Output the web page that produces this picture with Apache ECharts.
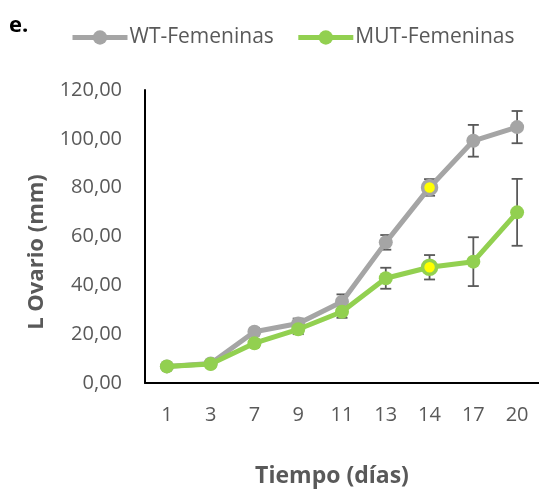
<!DOCTYPE html>
<html>
<head>
<meta charset="utf-8">
<script src="https://cdn.jsdelivr.net/npm/echarts@6/dist/echarts.min.js"></script>
<style>html,body{margin:0;padding:0;background:#fff}#c{width:539px;height:502px}</style>
</head>
<body>
<div id="c"></div>
<script>
const days = ['1','3','7','9','11','13','14','17','20'];
const wt = [6.8, 8.0, 21.0, 24.4, 33.3, 57.6, 80.1, 99.2, 104.8];
const mut = [6.8, 7.8, 16.3, 22.0, 29.2, 42.9, 47.4, 49.7, 69.9];
const wtErr = [0.5, 0.8, 1.5, 2.0, 3.0, 3.0, 3.4, 6.5, 6.6];
const mutErr = [0.5, 0.8, 1.5, 2.0, 2.5, 4.3, 5.0, 10.0, 13.7];
const highlightDays = ['14'];
const yTicks = [0, 20, 40, 60, 80, 100, 120];

const FONT = 'Open Sans';
const GREY = '#a5a5a5', GREEN = '#92d050', TXT = '#595959';

function pts(vals, color) {
  return vals.map((v, i) => highlightDays.includes(days[i])
    ? {value: v, itemStyle: {color: '#ffff00', borderColor: color, borderWidth: 3.5}}
    : v);
}
function errData(vals, errs) {
  return vals.map((v, i) => [i, v - errs[i], v + errs[i]]);
}
function errSeries(name, vals, errs) {
  return {
    type: 'custom', name: name, z: 1, silent: true,
    data: errData(vals, errs),
    renderItem: function (params, api) {
      const lo = api.coord([api.value(0), api.value(1)]);
      const hi = api.coord([api.value(0), api.value(2)]);
      const w = 5.5;
      const st = {stroke: TXT, lineWidth: 1.8};
      return {type: 'group', children: [
        {type: 'line', shape: {x1: lo[0], y1: lo[1], x2: hi[0], y2: hi[1]}, style: st},
        {type: 'line', shape: {x1: lo[0] - w, y1: lo[1], x2: lo[0] + w, y2: lo[1]}, style: st},
        {type: 'line', shape: {x1: hi[0] - w, y1: hi[1], x2: hi[0] + w, y2: hi[1]}, style: st}
      ]};
    }
  };
}

const chart = echarts.init(document.getElementById('c'));
chart.setOption({
  animation: false,
  textStyle: {fontFamily: FONT},
  grid: {left: 145, top: 90, width: 401, height: 293, containLabel: false},
  legend: {
    top: 22, left: 65, itemGap: 22, itemWidth: 55, itemHeight: 18,
    lineStyle: {width: 5},
    textStyle: {color: TXT, fontSize: 21, fontFamily: FONT, padding: [0, 0, 0, -3]},
    data: ['WT-Femeninas', 'MUT-Femeninas']
  },
  xAxis: {
    type: 'category', data: days, boundaryGap: true,
    axisLine: {lineStyle: {color: '#000', width: 2}},
    axisTick: {show: false},
    axisLabel: {color: TXT, fontSize: 20, margin: 22, fontFamily: FONT}
  },
  yAxis: {
    type: 'value', min: yTicks[0], max: yTicks[yTicks.length - 1], interval: 20,
    axisLine: {show: true, lineStyle: {color: '#000', width: 2}},
    axisTick: {show: false},
    splitLine: {show: false},
    axisLabel: {color: TXT, fontSize: 20, margin: 23, fontFamily: FONT,
      formatter: v => v.toFixed(2).replace('.', ',')}
  },
  graphic: [
    {type: 'text', left: 9, top: 15, style: {text: 'e.', fontSize: 22, fontWeight: 'bold', fill: '#000', fontFamily: FONT}},
    {type: 'text', x: 37, y: 252, rotation: Math.PI / 2,
      style: {text: 'L Ovario (mm)', fontSize: 22, fontWeight: 'bold', fill: TXT, fontFamily: FONT, align: 'center', verticalAlign: 'middle'}},
    {type: 'text', x: 332, y: 476,
      style: {text: 'Tiempo (días)', fontSize: 23, fontWeight: 'bold', fill: TXT, fontFamily: FONT, align: 'center', verticalAlign: 'middle'}}
  ],
  series: [
    errSeries('errWT', wt, wtErr),
    errSeries('errMUT', mut, mutErr),
    {name: 'WT-Femeninas', type: 'line', data: pts(wt, GREY), z: 3,
      symbol: 'circle', symbolSize: 14, color: GREY,
      lineStyle: {width: 5, color: GREY}, itemStyle: {color: GREY}},
    {name: 'MUT-Femeninas', type: 'line', data: pts(mut, GREEN), z: 4,
      symbol: 'circle', symbolSize: 14, color: GREEN,
      lineStyle: {width: 5, color: GREEN}, itemStyle: {color: GREEN}}
  ]
});
</script>
</body>
</html>
